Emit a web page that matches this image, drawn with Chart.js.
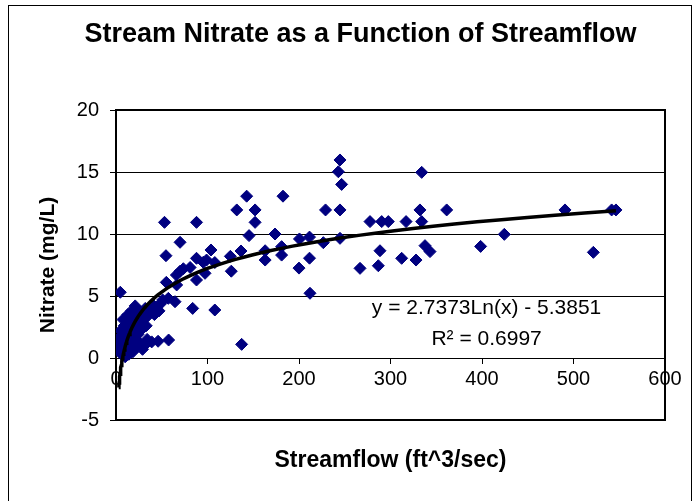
<!DOCTYPE html>
<html>
<head>
<meta charset="utf-8">
<script src="https://cdn.jsdelivr.net/npm/chart.js@4.4.1/dist/chart.umd.min.js"></script>
<style>
  html, body { margin: 0; padding: 0; background: #fff; }
  canvas { display: block; }
</style>
</head>
<body>
<canvas id="nitrateChart" width="698" height="501"></canvas>
<script>
// streamflow (ft^3/sec) of each sample
const flow = [
  3, 3.2, 3.5, 4.7, 5, 5.5, 6, 7, 7.7, 8, 9, 9.5, 10, 11, 11.5, 12, 13, 13.5, 14, 15,
  16, 17, 18, 18.5, 19, 20, 21, 22, 22.5, 23, 24, 25, 26, 27, 28, 29, 30, 31, 32, 33,
  34, 35, 37, 38.6, 39, 40, 42, 44, 46, 47, 49,
  51, 53, 54.6, 55, 57.2, 57.5, 64.5, 66, 66.3, 70, 70, 73.6, 81, 83.8, 88, 88, 88, 95.4, 97.3,
  99, 103.8, 108, 108, 125, 126, 132, 136.6, 137.3, 142.8, 145.4, 152, 152, 163, 163, 173.8,
  181, 181, 182.5, 200, 200.5, 211.5, 211.5, 212, 226.6, 229, 243, 244.8, 244.8, 244.8, 246.6,
  266.7, 277.6, 286.7, 288.5, 290.4, 297.6, 312.2, 317, 327.9, 332.2, 334.1, 334.1, 337.7, 343.2,
  361.4, 398.5, 424.4, 490.7, 521.7, 541.7, 546.4
];
// nitrate (mg/L) of each sample
const nitrate = [
  1.0, 1.6, 0.6, 5.3, 2.2, 1.2, 0.3, 1.8, 3.1, 0.8, 2.6, 1.4, 0.1, 3.2, 2.0, 0.7, 3.5, 1.5, 0.3, 2.6,
  1.1, 3.8, 2.1, 0.5, 3.0, 1.6, 4.2, 2.5, 0.9, 3.4, 1.9, 2.9, 1.2, 3.7, 2.3, 0.7, 3.1, 1.0, 4.0, 2.6,
  1.5, 3.4, 3.9, 3.73, 1.3, 4.3, 3.5, 4.1, 1.35, 3.8, 4.4,
  4.68, 10.94, 8.25, 6.1, 4.81, 1.45, 4.54, 6.69, 5.89, 9.33, 7.0, 7.2, 7.3, 4.0, 10.94, 8.04, 6.29, 7.72, 6.83,
  7.9, 8.71, 7.7, 3.87, 8.2, 7.0, 11.94, 8.63, 1.1, 13.05, 9.87, 11.94, 10.94, 8.65, 7.9, 10.0,
  8.98, 8.3, 13.05, 7.25, 9.6, 9.75, 8.05, 5.22, 9.3, 11.94, 15.02, 15.97, 11.94, 9.65, 14.0,
  7.23, 11.0, 7.44, 8.65, 11.0, 11.0, 8.04, 11.0, 7.9, 11.94, 14.97, 11.0, 9.06, 8.58,
  11.94, 9.0, 9.97, 11.94, 8.52, 11.94, 11.94
];

// logarithmic trendline as printed on the chart
const trendSlope = 2.7373;
const trendIntercept = -5.3851;
const trendLabel = ['y = 2.7373Ln(x) - 5.3851', 'R\u00B2 = 0.6997'];
const trendLabelAt = { x: 405, y: [4.0, 1.5] };

const xTicks = [0, 100, 200, 300, 400, 500, 600];
const yTicks = [-5, 0, 5, 10, 15, 20];

const FONT = "'Liberation Sans', Arial, sans-serif";

const points = flow.map((f, i) => ({ x: f, y: nitrate[i] }));

const xMin = Math.min(...flow), xMax = Math.max(...flow);
const trend = [];
for (let i = 0; i <= 80; i++) {
  const x = xMin * Math.pow(xMax / xMin, i / 80);
  trend.push({ x: x, y: trendSlope * Math.log(x) + trendIntercept });
}

const framePlugin = {
  id: 'frames',
  beforeDraw(chart) {
    const ctx = chart.ctx;
    ctx.save();
    ctx.fillStyle = '#fff';
    ctx.fillRect(0, 0, chart.width, chart.height);
    ctx.strokeStyle = '#000';
    ctx.lineWidth = 1;
    ctx.strokeRect(8.5, 5.5, 683, 520);
    ctx.restore();
  },
  beforeDatasetsDraw(chart) {
    const a = chart.chartArea, ctx = chart.ctx;
    ctx.save();
    ctx.strokeStyle = '#000';
    ctx.lineWidth = 2;
    ctx.strokeRect(a.left, a.top, a.right - a.left, a.bottom - a.top);
    ctx.restore();
  },
  afterDatasetsDraw(chart) {
    const ctx = chart.ctx, xs = chart.scales.x, ys = chart.scales.y;
    ctx.save();
    ctx.fillStyle = '#000';
    ctx.font = '21px ' + FONT;
    ctx.textAlign = 'center';
    ctx.textBaseline = 'middle';
    trendLabel.forEach((t, i) => {
      ctx.fillText(t, xs.getPixelForValue(trendLabelAt.x), ys.getPixelForValue(trendLabelAt.y[i]));
    });
    ctx.restore();
  }
};

new Chart(document.getElementById('nitrateChart'), {
  type: 'scatter',
  data: {
    datasets: [
      {
        label: 'trend',
        type: 'line',
        data: trend,
        borderColor: '#000',
        borderWidth: 3.5,
        pointRadius: 0,
        fill: false,
        tension: 0,
        order: 0
      },
      {
        label: 'Nitrate',
        data: points,
        pointStyle: 'rectRot',
        pointRadius: 6,
        pointBackgroundColor: '#000080',
        pointBorderColor: '#000080',
        pointBorderWidth: 1,
        order: 1
      }
    ]
  },
  options: {
    responsive: false,
    animation: false,
    layout: { padding: { left: 56, right: 33, top: 0, bottom: 0 } },
    plugins: {
      legend: { display: false },
      tooltip: { enabled: false },
      title: {
        display: true,
        text: 'Stream Nitrate as a Function of Streamflow',
        color: '#000',
        font: { family: FONT, size: 27, weight: 'bold' },
        padding: { top: 18, bottom: 59.6 }
      }
    },
    scales: {
      x: {
        type: 'linear',
        position: { y: 0 },
        min: 0,
        max: 600,
        afterBuildTicks: s => { s.ticks = xTicks.map(v => ({ value: v })); },
        afterFit: s => { s.paddingLeft = 0; s.paddingRight = 0; },
        ticks: { color: '#000', font: { family: FONT, size: 20 }, padding: 4, autoSkip: false, maxRotation: 0 },
        grid: { drawOnChartArea: false, drawTicks: true, tickLength: 5, color: '#000' },
        border: { display: true, color: '#000', width: 1 }
      },
      x2: {
        type: 'linear',
        position: 'bottom',
        min: 0,
        max: 600,
        afterFit: s => { s.height = 81; },
        ticks: { display: false },
        grid: { display: false },
        border: { display: false },
        title: {
          display: true,
          text: 'Streamflow (ft^3/sec)',
          color: '#000',
          font: { family: FONT, size: 23, weight: 'bold' },
          padding: { top: 0, bottom: 26.2 }
        }
      },
      y: {
        type: 'linear',
        position: 'left',
        min: -5,
        max: 20,
        afterBuildTicks: s => { s.ticks = yTicks.map(v => ({ value: v })); },
        afterFit: s => { s.width = 60; },
        ticks: { color: '#000', font: { family: FONT, size: 20 }, padding: 11 },
        grid: { color: '#000', lineWidth: 1, tickLength: 6 },
        border: { display: true, color: '#000', width: 2 },
        title: {
          display: true,
          text: 'Nitrate (mg/L)',
          color: '#000',
          font: { family: FONT, size: 21, weight: 'bold' },
          padding: { top: -20.6, bottom: 0 }
        }
      }
    }
  },
  plugins: [framePlugin]
});
</script>
</body>
</html>
